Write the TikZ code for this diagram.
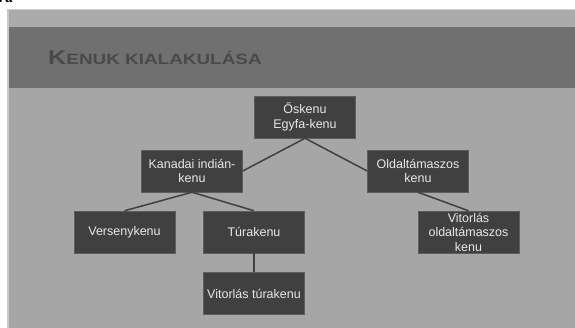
\documentclass[tikz,border=0pt]{standalone}
\usepackage{fontspec}
\setmainfont{Liberation Sans}
\newfontfamily\capfont{Liberation Serif}
\usetikzlibrary{positioning}
\definecolor{slidebg}{HTML}{A6A6A6}
\definecolor{topband}{HTML}{ABABAB}
\definecolor{titleband}{HTML}{707070}
\definecolor{titletext}{HTML}{4A4A4A}
\definecolor{boxfill}{HTML}{404040}
\definecolor{boxtext}{HTML}{E8E8E8}
\newcommand{\ttl}[2]{{\fontsize{20}{20}\selectfont #1}{\fontsize{15}{15}\selectfont #2}}

\begin{document}
\begin{tikzpicture}[x=1pt, y=-1pt,
	kbox/.style={draw=boxfill!85!white, line width=0.5pt, rectangle, fill=boxfill, minimum width=101pt, minimum height=42pt, inner sep=1pt, align=center, text=boxtext, font=\fontsize{12.5}{14.5}\selectfont},
	link/.style={draw=boxfill, line width=1.5pt}]
	\useasboundingbox (0, 0) rectangle (575, 328);
	% slide background
	\fill[white] (0, 0) rectangle (575, 328);
	\fill[slidebg] (7, 9) rectangle (575, 328);
	\fill[topband] (7, 9) rectangle (575, 27);
	\fill[black!18] (7, 9) rectangle (575, 10);
	\fill[titleband] (7, 27) rectangle (575, 88);
	\fill[black!22] (7, 9) rectangle (9, 328);
	\node[anchor=base west, inner sep=0pt, font=\capfont\bfseries\itshape\fontsize{16}{16}\selectfont] (cut) at (-1, 3) {ra};

	\node[anchor=base west, inner sep=0pt, text=titletext, font=\bfseries] (title) at (48, 65) {\scalebox{1.26}[1]{\ttl{K}{ENUK KIALAKULÁSA}}};

	\node[kbox] (osk) at (305, 117) {Őskenu\\Egyfa-kenu};
	\node[kbox] (kan) at (192, 171) {Kanadai indián-\\kenu};
	\node[kbox] (old) at (418, 171) {Oldaltámaszos\\kenu};
	\node[kbox] (ver) at (124.5, 232) {Versenykenu};
	\node[kbox] (tur) at (254, 232) {Túrakenu};
	\node[kbox] (vold) at (468.5, 232) {Vitorlás\\oldaltámaszos\\kenu};
	\node[kbox] (vtur) at (254, 293.5) {Vitorlás túrakenu};

	\draw[link] (osk.south) -- (kan.east);
	\draw[link] (osk.south) -- (old.west);
	\draw[link] (kan.south) -- (ver.north);
	\draw[link] (kan.south) -- (tur.north);
	\draw[link] (old.south) -- (vold.north);
	\draw[link] (tur.south) -- (vtur.north);
\end{tikzpicture}
\end{document}
